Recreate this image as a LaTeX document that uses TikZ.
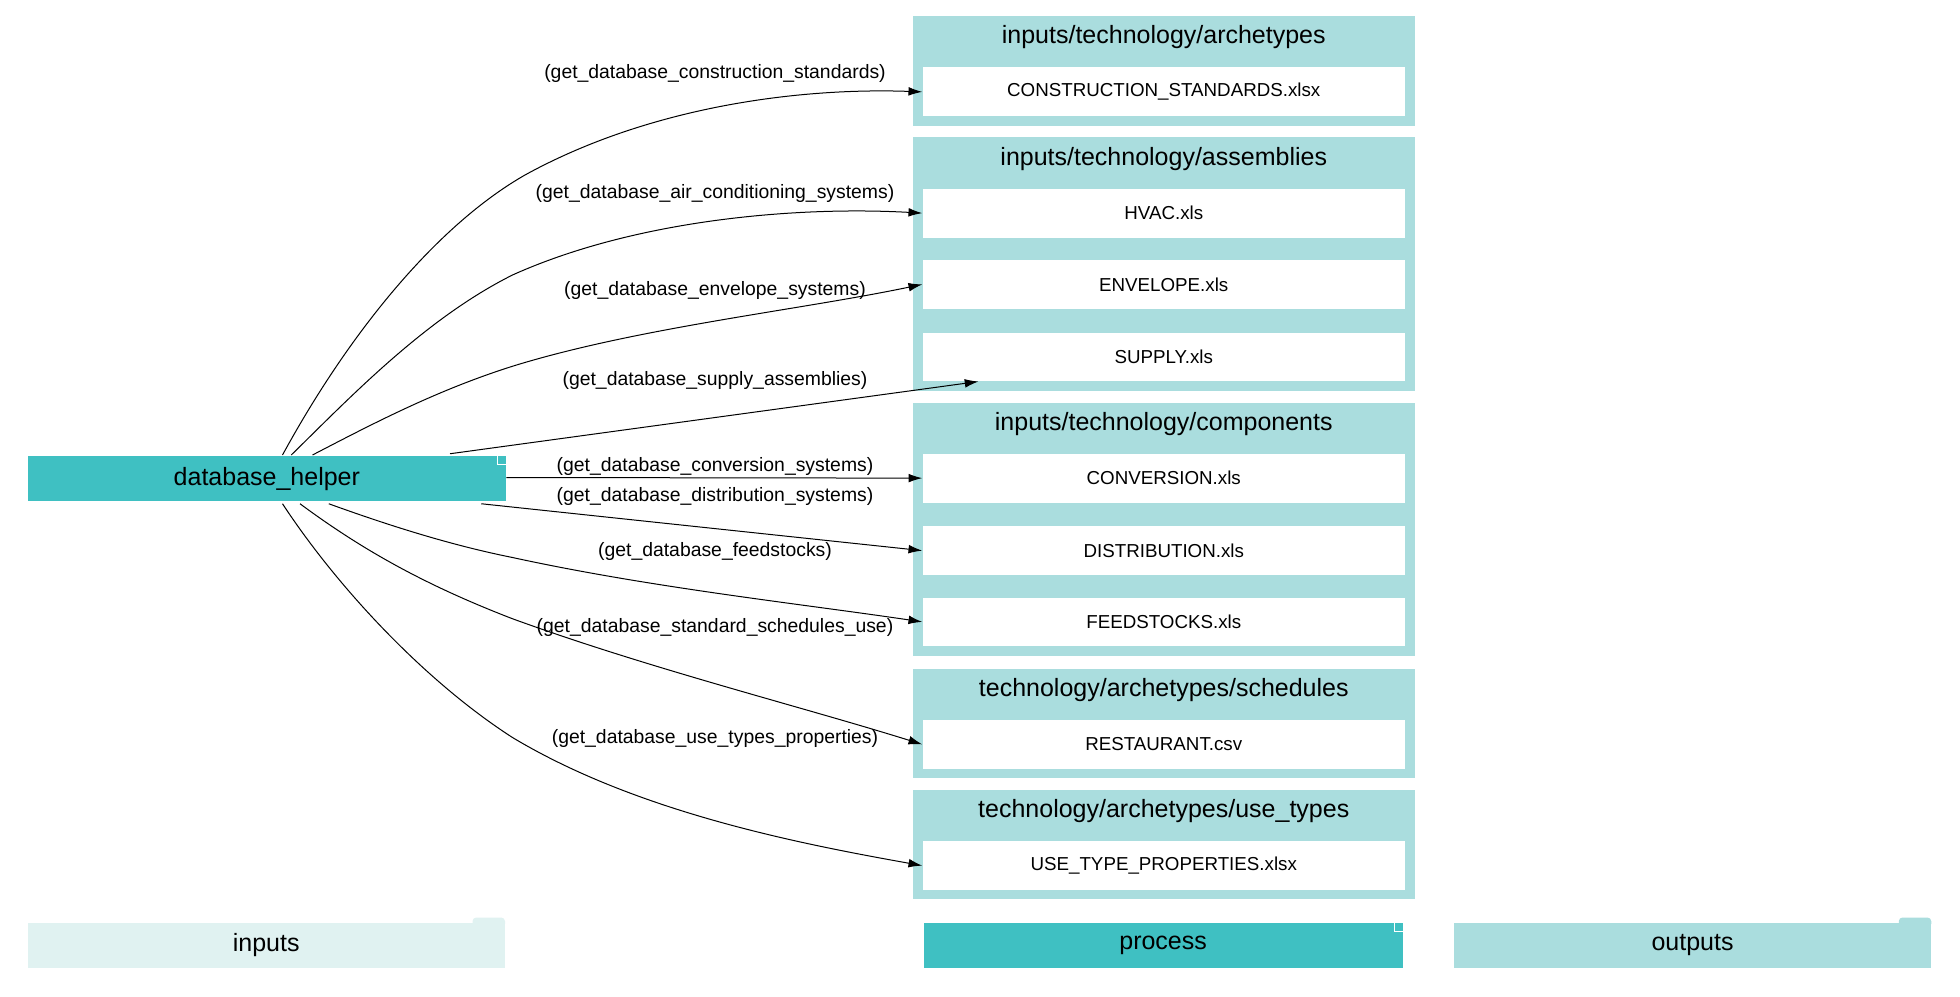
\documentclass[tikz,border=0pt]{standalone}
\usepackage{fontspec}
\setmainfont{Liberation Sans}
\usetikzlibrary{arrows.meta,calc}
\definecolor{proc}{HTML}{3FC0C2}
\definecolor{outc}{HTML}{AADDDE}
\definecolor{inc}{HTML}{E0F2F1}
\begin{document}
\begin{tikzpicture}[x=1pt,y=-1pt,
  clus/.style={fill=outc,draw=none},
  file/.style={fill=white,draw=none,minimum width=386pt,minimum height=39pt,inner sep=0pt,font=\fontsize{15}{18}\selectfont},
  ttl/.style={font=\fontsize{20}{24}\selectfont,inner sep=0pt},
  lbl/.style={font=\fontsize{15.5}{18}\selectfont,inner sep=1pt},
  edge/.style={-{Latex[length=11pt,width=7pt]},line width=0.8pt}]
\useasboundingbox (0,0) rectangle (1568,797);
% clusters
\fill[clus] (730,13) rectangle (1132,101);
\fill[clus] (730,110) rectangle (1132,313);
\fill[clus] (730,322) rectangle (1132,525);
\fill[clus] (730,535) rectangle (1132,622);
\fill[clus] (730,632) rectangle (1132,719);
\node[ttl] (t1) at (931,30) {inputs/technology/archetypes};
\node[ttl] (t2) at (931,127) {inputs/technology/assemblies};
\node[ttl] (t3) at (931,339) {inputs/technology/components};
\node[ttl] (t4) at (931,552) {technology/archetypes/schedules};
\node[ttl] (t5) at (931,649) {technology/archetypes/use\_types};
\node[file] (cs) at (931,73.5) {CONSTRUCTION\_STANDARDS.xlsx};
\node[file] (hvac) at (931,170.5) {HVAC.xls};
\node[file] (env) at (931,227.5) {ENVELOPE.xls};
\node[file] (sup) at (931,285.5) {SUPPLY.xls};
\node[file] (conv) at (931,382.5) {CONVERSION.xls};
\node[file] (dist) at (931,440.5) {DISTRIBUTION.xls};
\node[file] (feed) at (931,497.5) {FEEDSTOCKS.xls};
\node[file] (rest) at (931,595.5) {RESTAURANT.csv};
\node[file] (use) at (931,692.5) {USE\_TYPE\_PROPERTIES.xlsx};
% process node
\node[fill=proc,minimum width=383pt,minimum height=36pt,inner sep=0pt,font=\fontsize{20}{24}\selectfont] (db) at (213.5,383) {database\_helper};
\draw[white,line width=0.6pt] ($(db.north east)+(-7,0)$) -- ++(0,7) -- ++(7,0);
% coordinates
\coordinate (s1) at (226,364); \coordinate (s2) at (233,364); \coordinate (s3) at (250,364);
\coordinate (s4) at (360,363); \coordinate (s5) at (405,382); \coordinate (s6) at (385,403);
\coordinate (s7) at (263,403); \coordinate (s8) at (240,403); \coordinate (s9) at (226,403);
\coordinate (e4) at ($(sup.south west)+(45,0)$);
% edges
\draw[edge] (s1) .. controls (280,265) and (350,180) .. (420,140) .. controls (520,85) and (640,70) .. (cs.west);
\draw[edge] (s2) .. controls (280,318) and (340,255) .. (410,220) .. controls (510,175) and (640,165) .. (hvac.west);
\draw[edge] (s3) .. controls (300,338) and (350,312) .. (410,293) .. controls (510,262) and (640,248) .. (env.west);
\draw[edge] (s4) -- (e4);
\draw[edge] (s5) -- (conv.west);
\draw[edge] (s6) -- (dist.west);
\draw[edge] (s7) .. controls (310,420) and (360,436) .. (410,446) .. controls (520,470) and (640,483) .. (feed.west);
\draw[edge] (s8) .. controls (290,440) and (340,468) .. (410,495) .. controls (520,535) and (640,565) .. (rest.west);
\draw[edge] (s9) .. controls (270,470) and (340,545) .. (410,590) .. controls (510,650) and (640,675) .. (use.west);
% labels
\node[lbl] (l1) at (572,59) {(get\_database\_construction\_standards)};
\node[lbl] (l2) at (572,155) {(get\_database\_air\_conditioning\_systems)};
\node[lbl] (l3) at (572,232) {(get\_database\_envelope\_systems)};
\node[lbl] (l4) at (572,304) {(get\_database\_supply\_assemblies)};
\node[lbl] (l5) at (572,373) {(get\_database\_conversion\_systems)};
\node[lbl] (l6) at (572,397) {(get\_database\_distribution\_systems)};
\node[lbl] (l7) at (572,441) {(get\_database\_feedstocks)};
\node[lbl] (l8) at (572,502) {(get\_database\_standard\_schedules\_use)};
\node[lbl] (l9) at (572,591) {(get\_database\_use\_types\_properties)};
% legend
\fill[inc] (22,738) rectangle (404,774);
\fill[inc,rounded corners=3pt] (378,734) rectangle (404,742);
\node[font=\fontsize{20}{24}\selectfont] (lin) at (213,756) {inputs};
\node[fill=proc,minimum width=383pt,minimum height=36pt,inner sep=0pt,font=\fontsize{20}{24}\selectfont] (lpr) at (930.5,756) {process};
\draw[white,line width=0.6pt] ($(lpr.north east)+(-7,0)$) -- ++(0,7) -- ++(7,0);
\fill[outc] (1163,738) rectangle (1545,774);
\fill[outc,rounded corners=3pt] (1519,734) rectangle (1545,742);
\node[font=\fontsize{20}{24}\selectfont] (lout) at (1354,756) {outputs};
\end{tikzpicture}
\end{document}
